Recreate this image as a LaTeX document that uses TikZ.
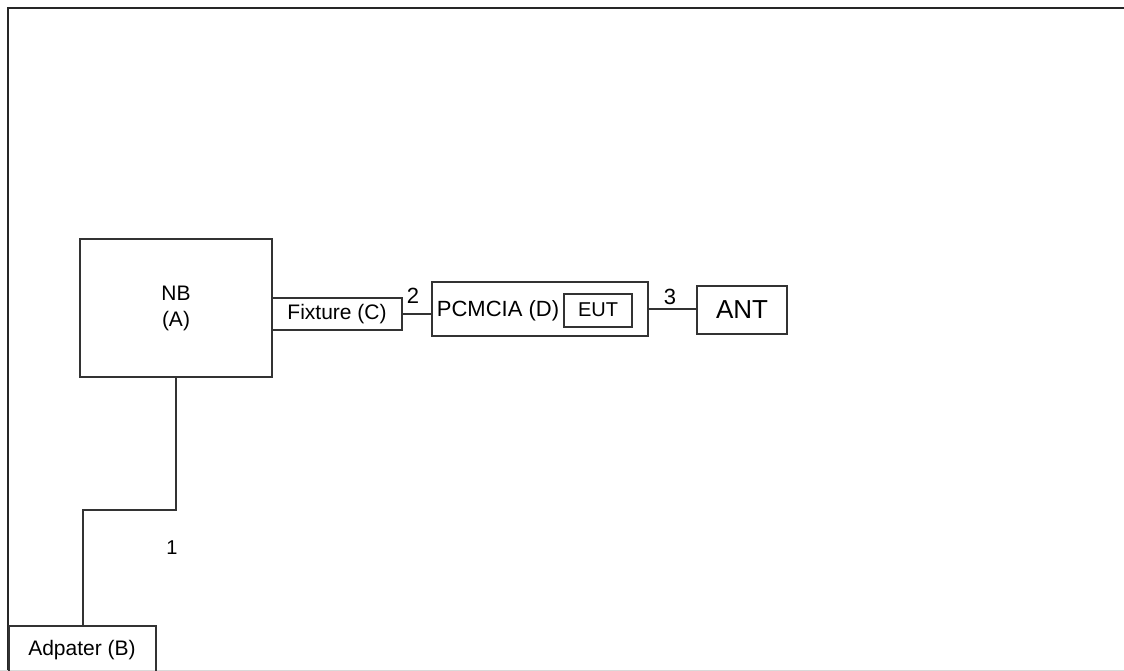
\documentclass[tikz,border=0pt]{standalone}
\usepackage{fontspec}
\setmainfont{Liberation Sans}
\begin{document}
\begin{tikzpicture}[x=1pt,y=-1pt,
  box/.style={draw=black!80,line width=2pt,rectangle,inner sep=0pt},
  wire/.style={draw=black!80,line width=2pt},
  lbl/.style={inner sep=0pt,font=\fontsize{21}{26}\selectfont}]
\useasboundingbox (0,0) rectangle (1124,671);
% frame
\draw[line width=2.5pt,black!85] (8,720) -- (8,8) -- (1140,8);
\draw[line width=1pt,black!15] (0,670) -- (1124,670);
% nodes
\node[box,minimum width=192pt,minimum height=138pt,align=center,font=\fontsize{21}{26}\selectfont] (nb) at (176,308) {NB\\(A)};
\node[box,minimum width=130pt,minimum height=32pt,font=\fontsize{21}{26}\selectfont] (fix) at (337,314) {Fixture (C)};
\node[box,minimum width=216pt,minimum height=54pt] (pc) at (540,309) {};
\node[lbl,font=\fontsize{22}{26}\selectfont] (pctxt) at (498,311) {PCMCIA (D)};
\node[box,minimum width=68pt,minimum height=33pt,font=\fontsize{20}{24}\selectfont] (eut) at (598,310) {EUT};
\node[box,minimum width=90pt,minimum height=48pt,font=\fontsize{26}{30}\selectfont] (ant) at (742,310) {ANT};
\node[box,minimum width=147pt,minimum height=80pt] (adp) at (82.5,666) {};
\node[lbl] (adptxt) at (82,650) {Adpater (B)};
% connectors
\coordinate (k) at (82.5,510);
\draw[wire] (nb.south) |- (k) -- (adp.north);
\draw[wire] (fix.east) -- (fix.east -| pc.west);
\draw[wire] (pc.east) -- (pc.east -| ant.west);
% labels
\node[lbl,font=\fontsize{20}{24}\selectfont] (l1) at (172,548) {1};
\node[lbl,font=\fontsize{22}{26}\selectfont] (l2) at (413,296) {2};
\node[lbl,font=\fontsize{22}{26}\selectfont] (l3) at (670,297) {3};
\end{tikzpicture}
\end{document}
